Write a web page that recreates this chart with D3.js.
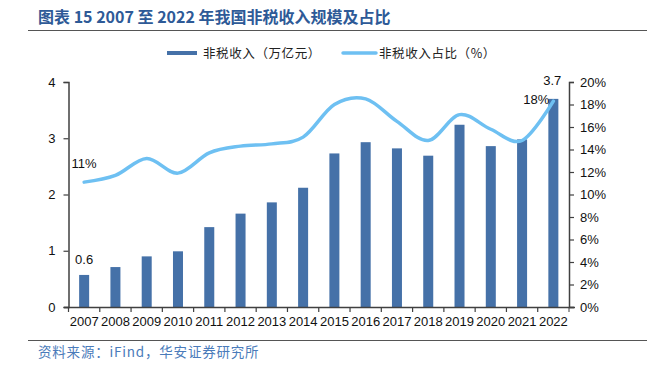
<!DOCTYPE html>
<html lang="zh">
<head>
<meta charset="UTF-8">
<title>非税收入规模及占比</title>
<script src="https://d3js.org/d3.v7.min.js"></script>
<style>
  body { margin: 0; background: #fff; }
  text { font-family: 'Liberation Sans', Arial, sans-serif; }
  .cjk { font-family: 'Noto Sans CJK SC', sans-serif; }
</style>
</head>
<body>
<script>
// 数据
const years = ["2007","2008","2009","2010","2011","2012","2013","2014","2015","2016","2017","2018","2019","2020","2021","2022"];
const revenue = [0.57,0.71,0.90,0.99,1.42,1.66,1.86,2.12,2.73,2.93,2.82,2.69,3.24,2.86,2.98,3.70];
const share = [11.1,11.7,13.2,11.9,13.7,14.3,14.5,15.1,18.0,18.5,16.5,14.8,17.1,15.8,14.8,18.3];
const leftTicks = [0,1,2,3,4];
const rightTicks = [0,2,4,6,8,10,12,14,16,18,20];

const width = 647, height = 368;
const barColor = '#4571A8', lineColor = '#6EC0F2', axisColor = '#404040';

const svg = d3.select('body').append('svg')
    .attr('width', width).attr('height', height);

// 标题
svg.append('text').attr('class', 'cjk')
    .attr('x', 38).attr('y', 23)
    .attr('fill', '#2E5A97').attr('font-weight', 'bold').attr('font-size', 16)
    .text('图表 15 2007 至 2022 年我国非税收入规模及占比');
svg.append('line').attr('x1', 28).attr('x2', 647).attr('y1', 30.5).attr('y2', 30.5)
    .attr('stroke', '#555').attr('stroke-width', 1.2);

// 比例尺
const x = d3.scaleBand().domain(years).range([68.5, 569]).paddingInner(0.68).paddingOuter(0.34);
const xb = d3.scaleBand().domain(years).range([68.5, 569]);
const yL = d3.scaleLinear().domain([0, 4]).range([307, 82]);
const yR = d3.scaleLinear().domain([0, 20]).range([307, 82]);

// 柱子
svg.append('g').selectAll('rect').data(revenue).join('rect')
    .attr('x', (d, i) => x(years[i]))
    .attr('y', d => yL(d))
    .attr('width', x.bandwidth())
    .attr('height', d => yL(0) - yL(d))
    .attr('fill', barColor);

// 折线
const line = d3.line()
    .x((d, i) => xb(years[i]) + xb.bandwidth() / 2)
    .y(d => yR(d))
    .curve(d3.curveCatmullRom.alpha(0));
svg.append('path').datum(share)
    .attr('d', line).attr('fill', 'none')
    .attr('stroke', lineColor).attr('stroke-width', 3.5).attr('stroke-linecap', 'round');

// 左轴
const gl = svg.append('g').attr('transform', 'translate(68.5,0)')
    .call(d3.axisLeft(yL).tickValues(leftTicks).tickFormat(d3.format('d')).tickSize(5).tickPadding(8));
// 右轴
const gr = svg.append('g').attr('transform', 'translate(569,0)')
    .call(d3.axisRight(yR).tickValues(rightTicks).tickFormat(d => d + '%').tickSize(5).tickPadding(6));
// 底轴
const gb = svg.append('g').attr('transform', 'translate(0,307)')
    .call(d3.axisBottom(xb).tickSize(0).tickPadding(10));
gb.selectAll('.tick').append('line')
    .attr('x1', -xb.bandwidth() / 2).attr('x2', -xb.bandwidth() / 2)
    .attr('y1', 0).attr('y2', 5).attr('stroke', axisColor);
gb.append('line').attr('x1', xb.range()[1]).attr('x2', xb.range()[1]).attr('y1', 0).attr('y2', 5).attr('stroke', axisColor);

[gl, gr, gb].forEach(g => {
  g.select('.domain').attr('stroke', axisColor).attr('stroke-width', 1.5);
  g.selectAll('.tick line').attr('stroke', axisColor).attr('stroke-width', 1.2);
  g.selectAll('.tick text').attr('fill', '#111').attr('font-size', 13)
    .attr('font-family', "'Liberation Sans', Arial, sans-serif");
});
gb.select('.domain').attr('d', `M64,0.5H575`);

// 数据标签
const cx = i => xb(years[i]) + xb.bandwidth() / 2;
const last = years.length - 1;
svg.append('text').attr('x', cx(0)).attr('y', yL(revenue[0]) - 11)
    .attr('text-anchor', 'middle').attr('font-size', 13).attr('fill', '#111')
    .text(d3.format('.1f')(revenue[0]));
svg.append('text').attr('x', cx(last) + 8).attr('y', yL(revenue[last]) - 14)
    .attr('text-anchor', 'end').attr('font-size', 13).attr('fill', '#111')
    .text(d3.format('.1f')(revenue[last]));
svg.append('text').attr('x', cx(0)).attr('y', yR(share[0]) - 14)
    .attr('text-anchor', 'middle').attr('font-size', 13).attr('fill', '#111')
    .text(Math.round(share[0]) + '%');
svg.append('text').attr('x', cx(last) - 4).attr('y', yR(share[last]) + 3)
    .attr('text-anchor', 'end').attr('font-size', 13).attr('fill', '#111')
    .text(Math.round(share[last]) + '%');

// 图例
svg.append('rect').attr('x', 167).attr('y', 51).attr('width', 30).attr('height', 4).attr('fill', barColor);
svg.append('text').attr('class', 'cjk').attr('x', 203).attr('y', 57.5)
    .attr('font-size', 12.5).attr('letter-spacing', 0.6).attr('fill', '#222').text('非税收入（万亿元）');
svg.append('line').attr('x1', 343).attr('x2', 376).attr('y1', 53).attr('y2', 53)
    .attr('stroke', lineColor).attr('stroke-width', 3.5).attr('stroke-linecap', 'round');
svg.append('text').attr('class', 'cjk').attr('x', 379).attr('y', 57.5)
    .attr('font-size', 12.5).attr('letter-spacing', 0.6).attr('fill', '#222').text('非税收入占比（%）');

// 底部来源
svg.append('line').attr('x1', 28).attr('x2', 647).attr('y1', 340.5).attr('y2', 340.5)
    .attr('stroke', '#555').attr('stroke-width', 1.2);
svg.append('text').attr('class', 'cjk').attr('x', 38).attr('y', 357)
    .attr('font-size', 13.5).attr('letter-spacing', 0.8).attr('fill', '#4A7BBA').text('资料来源：iFind，华安证券研究所');
</script>
</body>
</html>
